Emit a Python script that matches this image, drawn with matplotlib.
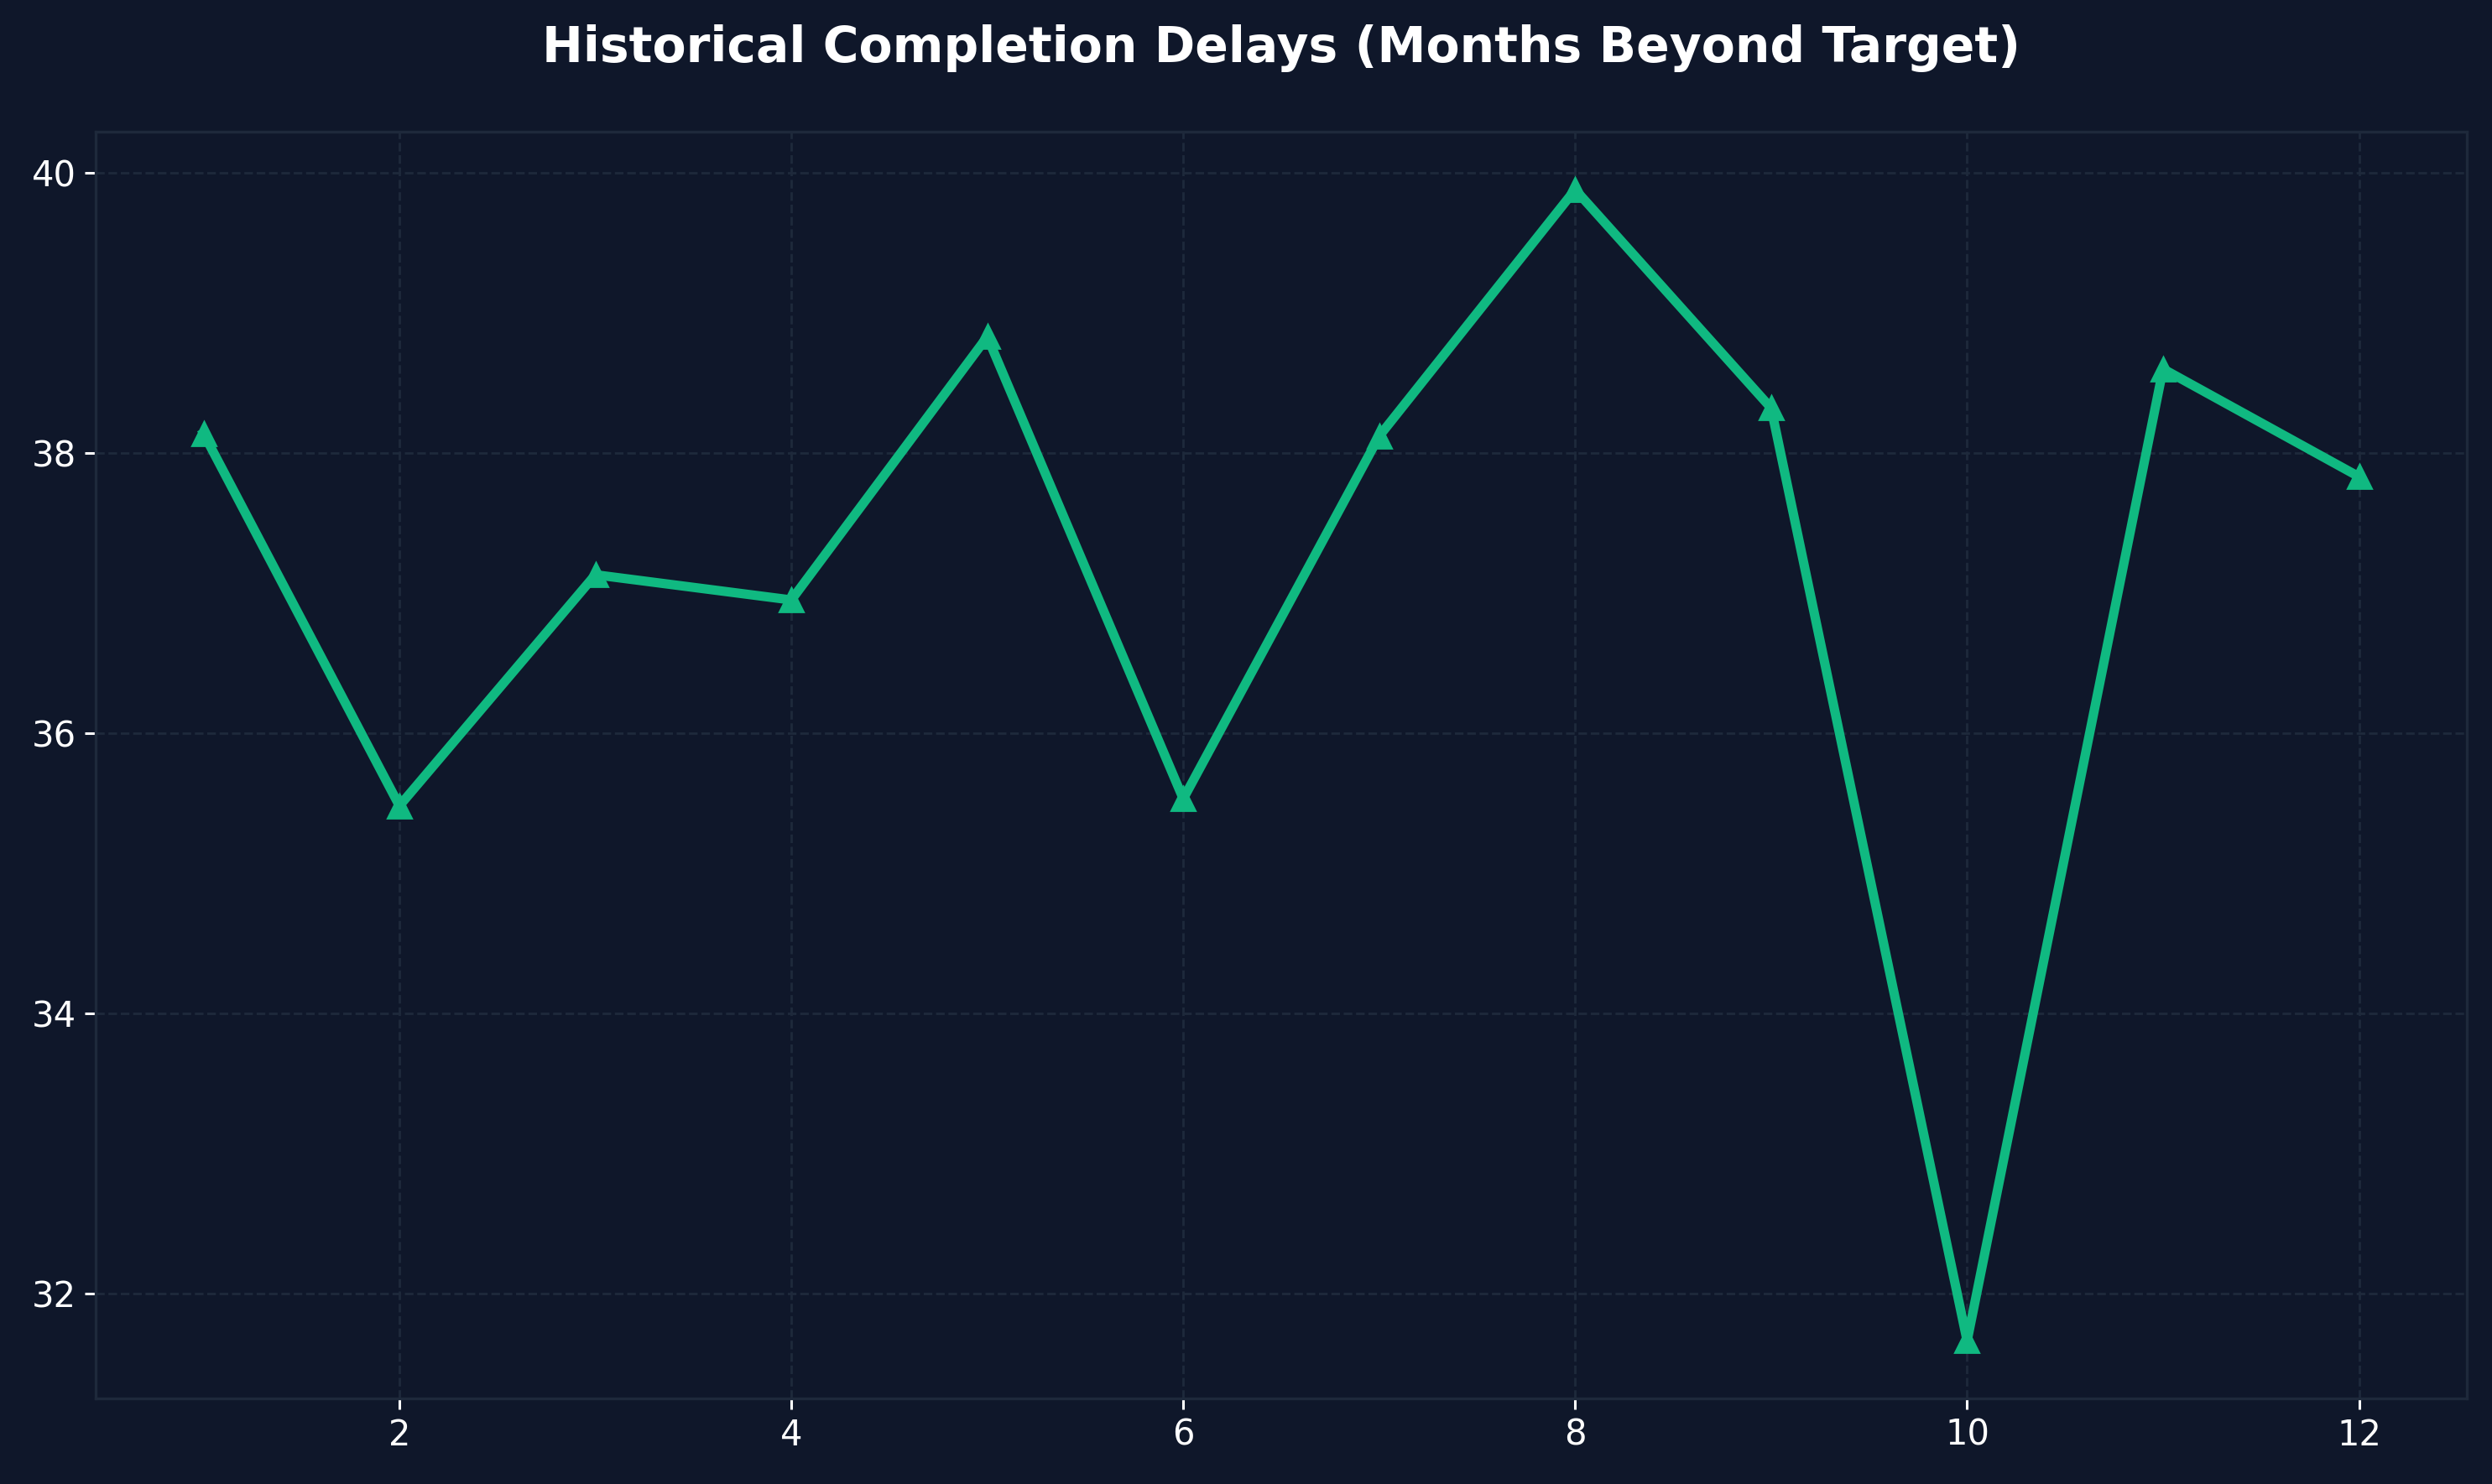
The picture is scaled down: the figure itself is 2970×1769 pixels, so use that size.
import matplotlib
matplotlib.use("Agg")
import matplotlib.pyplot as plt

# Data
periods = [1, 2, 3, 4, 5, 6, 7, 8, 9, 10, 11, 12]
delays = [38.14, 35.48, 37.13, 36.95, 38.83, 35.53, 38.12, 39.88, 38.32, 31.66, 38.60, 37.83]

bg = '#0f172a'
line_color = '#10b981'
grid_color = '#1e293b'

fig, ax = plt.subplots(figsize=(14.85, 8.845), dpi=200)
fig.patch.set_facecolor(bg)
ax.set_facecolor(bg)

ax.plot(periods, delays, color=line_color, linewidth=4, marker='^',
        markersize=10, markeredgecolor=line_color, markerfacecolor=line_color)

ax.set_title('Historical Completion Delays (Months Beyond Target)',
             color='white', fontsize=21, fontweight='bold', pad=30)

ax.grid(True, color=grid_color, linestyle='--', linewidth=1.0)
ax.set_axisbelow(True)
for s in ax.spines.values():
    s.set_color(grid_color)
    s.set_linewidth(1.2)
ax.tick_params(colors='white', labelsize=15, length=4.7, width=1.1)

fig.subplots_adjust(left=0.0384, right=0.9899, top=0.911, bottom=0.0577)
fig.savefig('out.png', dpi=200, facecolor=bg)
